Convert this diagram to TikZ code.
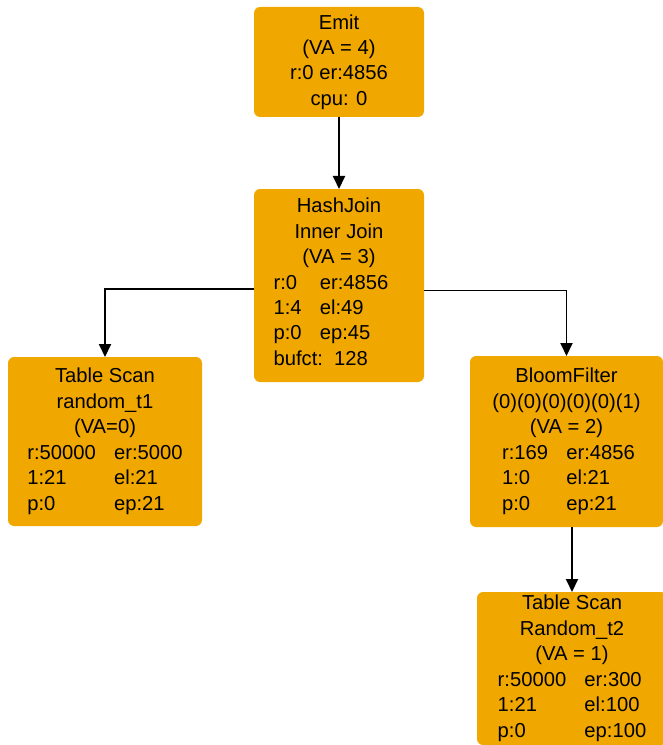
\documentclass[tikz,border=0pt]{standalone}
\usepackage{fontspec}
\setmainfont{Liberation Sans}
\usetikzlibrary{arrows.meta}

\definecolor{opfill}{RGB}{240,168,0}

\begin{document}
\begin{tikzpicture}[
    opbox/.style={fill=opfill, rounded corners=3.5pt, inner sep=0pt, outer sep=0pt,
      font=\fontsize{11.5}{14.5}\selectfont},
    flow/.style={line width=1.1pt, -{Triangle[length=2.6mm,width=2.4mm]}}
  ]
    % Page size of the plan
    \clip (0,0) rectangle (13.26,-14.9);

    % Column gap in the counter tables
    \def\gap{\hspace{0.9em}}

    % Operators of the plan
    \node[opbox, minimum width=3.4cm, minimum height=2.2cm, align=center] (emit) at (6.78,-1.24)
      {Emit\\(VA = 4)\\r:0 er:4856\\cpu: 0};

    \node[opbox, minimum width=3.4cm, minimum height=3.86cm, align=center] (hashjoin) at (6.78,-5.71)
      {HashJoin\\Inner Join\\(VA = 3)\\
       \hspace*{-0.32cm}\begin{tabular}[t]{@{}l@{\gap}l@{}}
        r:0 & er:4856\\
        1:4 & el:49\\
        p:0 & ep:45\\
        \multicolumn{2}{@{}l}{bufct:\ \ 128}
      \end{tabular}};

    \node[opbox, minimum width=3.88cm, minimum height=3.38cm] (scanone) at (2.10,-8.83)
      {\begin{tabular}{@{}l@{\gap}l@{}}
        \multicolumn{2}{c}{Table Scan}\\
        \multicolumn{2}{c}{random\_t1}\\
        \multicolumn{2}{c}{(VA=0)}\\
        r:50000 & er:5000\\
        1:21 & el:21\\
        p:0 & ep:21
      \end{tabular}};

    \node[opbox, minimum width=3.86cm, minimum height=3.42cm] (bloom) at (11.33,-8.83)
      {\begin{tabular}{@{}l@{\gap}l@{}}
        \multicolumn{2}{c}{BloomFilter}\\
        \multicolumn{2}{c}{(0)(0)(0)(0)(0)(1)}\\
        \multicolumn{2}{c}{(VA = 2)}\\
        \hspace{1em}r:169 & er:4856\\
        \hspace{1em}1:0 & el:21\\
        \hspace{1em}p:0 & ep:21
      \end{tabular}};

    \node[opbox, minimum width=3.8cm, minimum height=3.06cm] (scantwo) at (11.44,-13.37)
      {\begin{tabular}{@{}l@{\gap}l@{}}
        \multicolumn{2}{c}{Table Scan}\\
        \multicolumn{2}{c}{Random\_t2}\\
        \multicolumn{2}{c}{(VA = 1)}\\
        r:50000 & er:300\\
        1:21 & el:100\\
        p:0 & ep:100
      \end{tabular}};

    % Data flow between the operators
    \draw[flow] (emit) -- (hashjoin);
    \draw[flow] ([yshift=-0.07cm]hashjoin.west) -| (scanone.north);
    \draw[flow] ([yshift=-0.1cm]hashjoin.east) -| (bloom.north);
    \draw[flow] (bloom.south -| scantwo.north) -- (scantwo.north);
\end{tikzpicture}
\end{document}
